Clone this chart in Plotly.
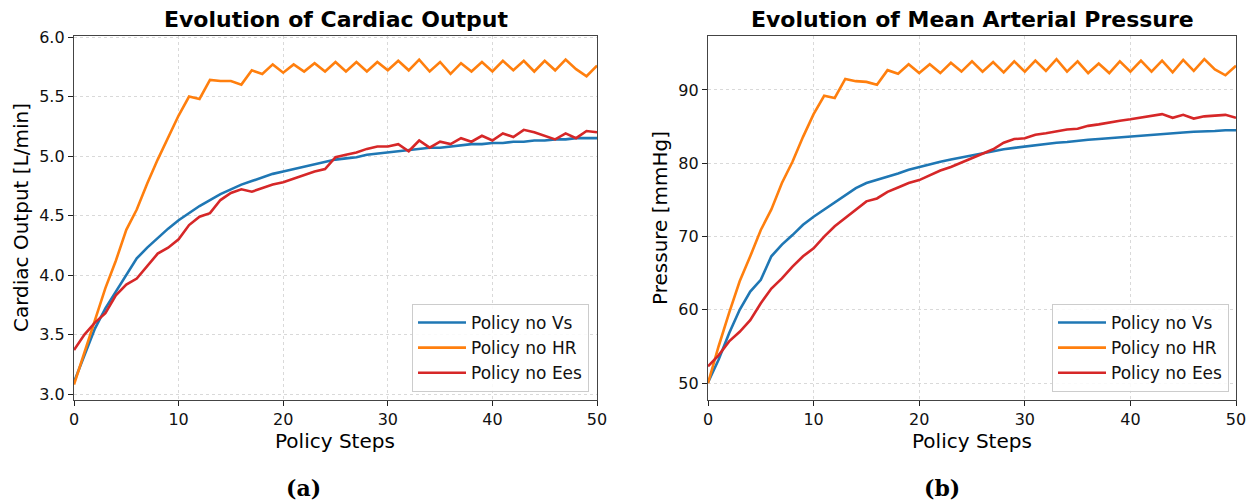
import plotly.graph_objects as go

# Policy step index shared by both panels
steps = list(range(51))

# Cardiac output [L/min]
co_no_vs = [3.10, 3.33, 3.55, 3.72, 3.86, 4.00, 4.14, 4.23, 4.31, 4.39, 4.46,
            4.52, 4.58, 4.63, 4.68, 4.72, 4.76, 4.79, 4.82, 4.85, 4.87,
            4.89, 4.91, 4.93, 4.95, 4.97, 4.98, 4.99, 5.01, 5.02, 5.03,
            5.04, 5.05, 5.06, 5.07, 5.07, 5.08, 5.09, 5.10, 5.10, 5.11,
            5.11, 5.12, 5.12, 5.13, 5.13, 5.14, 5.14, 5.15, 5.15, 5.15]
co_no_hr = [3.08, 3.35, 3.62, 3.89, 4.12, 4.38, 4.55, 4.77, 4.97, 5.15, 5.34,
            5.50, 5.48, 5.64, 5.63, 5.63, 5.60, 5.72, 5.69, 5.77, 5.70,
            5.77, 5.71, 5.78, 5.71, 5.79, 5.71, 5.79, 5.71, 5.79, 5.72,
            5.80, 5.72, 5.81, 5.71, 5.79, 5.69, 5.78, 5.71, 5.79, 5.71,
            5.80, 5.72, 5.80, 5.71, 5.80, 5.72, 5.81, 5.73, 5.67, 5.76]
co_no_ees = [3.37, 3.50, 3.60, 3.68, 3.83, 3.92, 3.97, 4.08, 4.18, 4.23, 4.30,
             4.42, 4.49, 4.52, 4.63, 4.69, 4.72, 4.70, 4.73, 4.76, 4.78,
             4.81, 4.84, 4.87, 4.89, 4.99, 5.01, 5.03, 5.06, 5.08, 5.08,
             5.10, 5.04, 5.13, 5.07, 5.12, 5.10, 5.15, 5.12, 5.17, 5.13,
             5.19, 5.16, 5.22, 5.20, 5.17, 5.14, 5.19, 5.15, 5.21, 5.20]

# Mean arterial pressure [mmHg]
map_no_vs = [50.1, 53.2, 56.8, 60.0, 62.5, 64.1, 67.3, 68.9, 70.2, 71.6, 72.7,
             73.7, 74.7, 75.7, 76.6, 77.3, 77.7, 78.2, 78.6, 79.1, 79.5,
             79.9, 80.2, 80.5, 80.8, 81.1, 81.4, 81.7, 81.9, 82.1, 82.3,
             82.5, 82.6, 82.8, 82.9, 83.1, 83.2, 83.3, 83.4, 83.6, 83.7,
             83.8, 83.9, 84.0, 84.1, 84.2, 84.3, 84.3, 84.4, 84.5, 84.5]
map_no_hr = [50.0, 55.0, 59.6, 63.9, 67.3, 70.9, 73.7, 77.3, 80.2, 83.6, 86.7,
             89.2, 88.9, 91.5, 91.2, 91.1, 90.7, 92.7, 92.2, 93.5, 92.3,
             93.5, 92.3, 93.7, 92.5, 93.9, 92.5, 93.8, 92.4, 93.9, 92.5,
             94.0, 92.6, 94.2, 92.5, 93.9, 92.3, 93.6, 92.3, 93.9, 92.5,
             94.0, 92.5, 94.0, 92.4, 94.1, 92.6, 94.2, 92.8, 92.0, 93.3]
map_no_ees = [52.3, 53.8, 55.7, 57.0, 58.6, 60.9, 62.9, 64.3, 65.9, 67.3, 68.4,
              70.0, 71.4, 72.5, 73.6, 74.8, 75.2, 76.1, 76.7, 77.3, 77.7,
              78.4, 79.0, 79.5, 80.1, 80.7, 81.3, 81.9, 82.8, 83.3, 83.4,
              83.9, 84.1, 84.4, 84.6, 84.7, 85.1, 85.3, 85.6, 85.8, 86.0,
              86.2, 86.5, 86.7, 86.2, 86.6, 86.1, 86.4, 86.5, 86.6, 86.2]

series_names = ["Policy no Vs", "Policy no HR", "Policy no Ees"]
colors = ["#1f77b4", "#ff7f0e", "#d62728"]

W, H = 1251, 503
FONT = "DejaVu Sans"

fig = go.Figure()

for name, ys, col in zip(series_names, [co_no_vs, co_no_hr, co_no_ees], colors):
    fig.add_trace(go.Scatter(x=steps, y=ys, mode="lines", name=name,
                             line=dict(color=col, width=2.6),
                             xaxis="x", yaxis="y", legend="legend"))

for name, ys, col in zip(series_names, [map_no_vs, map_no_hr, map_no_ees], colors):
    fig.add_trace(go.Scatter(x=steps, y=ys, mode="lines", name=name,
                             line=dict(color=col, width=2.6),
                             xaxis="x2", yaxis="y2", legend="legend2"))

y_dom = [(H - 400) / H, (H - 35.7) / H]
xl_dom = [74 / W, 597 / W]
xr_dom = [708 / W, 1236 / W]

axis_common = dict(
    showline=True, mirror=True, linecolor="#444", linewidth=1.3,
    ticks="outside", ticklen=5, tickwidth=1.2, tickcolor="#222",
    showgrid=True, gridcolor="#d9d9d9", griddash="dot", gridwidth=1,
    zeroline=False, automargin=False,
    tickfont=dict(family=FONT, size=16, color="#111"),
)

legend_common = dict(
    font=dict(family=FONT, size=17, color="#111"),
    bgcolor="rgba(255,255,255,0.85)", bordercolor="#cccccc", borderwidth=1,
    xanchor="right", yanchor="bottom", tracegroupgap=0, itemwidth=48,
)

fig.update_layout(
    width=W, height=H,
    margin=dict(l=0, r=0, t=0, b=0),
    paper_bgcolor="white", plot_bgcolor="white",
    showlegend=True,
    xaxis=dict(domain=xl_dom, range=[0, 50], tickvals=[0, 10, 20, 30, 40, 50],
               anchor="y", **axis_common),
    yaxis=dict(domain=y_dom, range=[2.95, 6.011],
               tickvals=[3.0, 3.5, 4.0, 4.5, 5.0, 5.5, 6.0], tickformat=".1f",
               anchor="x", **axis_common),
    xaxis2=dict(domain=xr_dom, range=[0, 50], tickvals=[0, 10, 20, 30, 40, 50],
                anchor="y2", **axis_common),
    yaxis2=dict(domain=y_dom, range=[47.7, 97.4], tickvals=[50, 60, 70, 80, 90],
                anchor="x2", **axis_common),
    legend=dict(x=589 / W, y=(H - 392) / H, **legend_common),
    legend2=dict(x=1229 / W, y=(H - 392) / H, **legend_common),
)

def text_at(txt, x, y, size, bold=False, family=FONT, angle=0):
    fig.add_annotation(
        text=f"<b>{txt}</b>" if bold else txt,
        x=x / W, y=1 - y / H, xref="paper", yref="paper",
        xanchor="center", yanchor="middle", showarrow=False, textangle=angle,
        font=dict(family=family, size=size, color="#000"),
    )

# Panel titles
text_at("Evolution of Cardiac Output", 336, 20, 22, bold=True)
text_at("Evolution of Mean Arterial Pressure", 972, 20, 22, bold=True)

# Axis titles
text_at("Policy Steps", 335, 441, 20)
text_at("Policy Steps", 972, 441, 20)
text_at("Cardiac Output [L/min]", 21, 218, 20, angle=-90)
text_at("Pressure [mmHg]", 660, 218, 20, angle=-90)

# Sub-figure captions
text_at("(a)", 303, 488, 22, bold=True, family="DejaVu Serif")
text_at("(b)", 942, 488, 22, bold=True, family="DejaVu Serif")

fig.write_html("out.html")
